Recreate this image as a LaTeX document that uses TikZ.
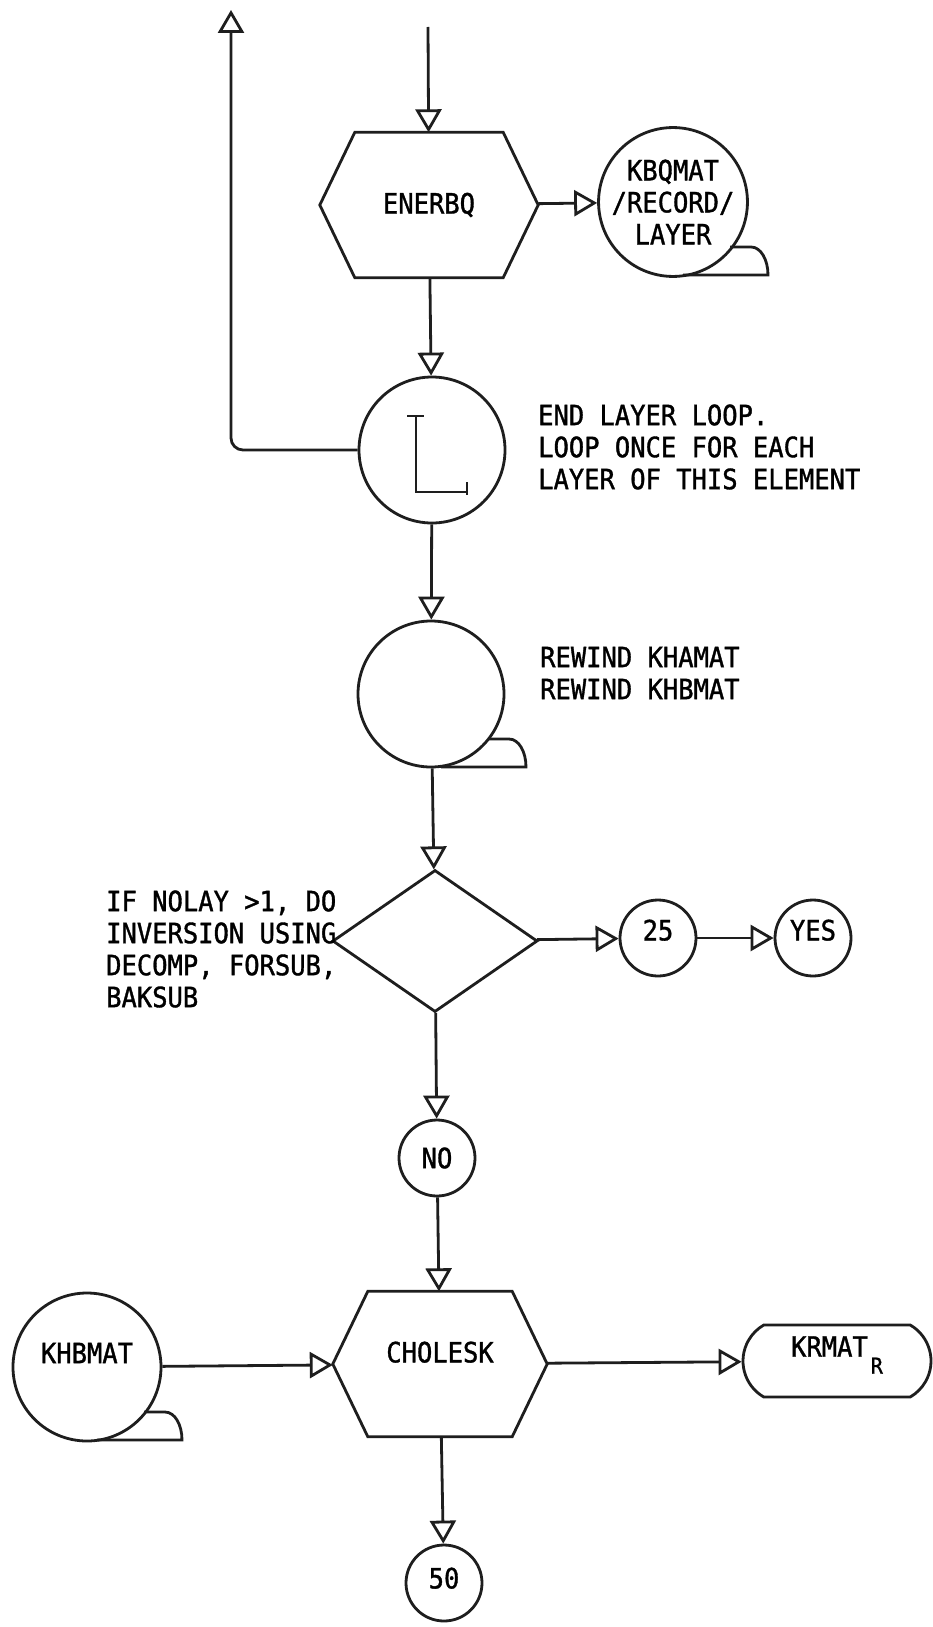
\documentclass[tikz,border=0pt]{standalone}
\usepackage{fontspec}
\setmainfont{DejaVu Sans Mono}[FakeStretch=0.91,FakeBold=1.2]
\usepackage{tikz}
\usetikzlibrary{arrows.meta,positioning,calc,shapes.geometric,shapes.misc}
\definecolor{cInk}{HTML}{1E1E1E}
\tikzset{
  wire/.style ={line width=2.8pt,draw=cInk},
  arr/.style  ={wire,-{Triangle[open,length=23pt,width=26pt]}},
  proc/.style ={minimum width=218pt,minimum height=145pt,inner sep=0pt},
  tape/.style ={circle,wire,minimum size=146pt,inner sep=0pt,align=center},
  conn/.style ={circle,wire,minimum size=76pt,inner sep=0pt},
  dec/.style  ={diamond,wire,minimum width=205pt,minimum height=142pt,inner sep=0pt},
  term/.style ={rounded rectangle,rounded rectangle arc length=120,wire,
                minimum width=188pt,minimum height=72pt,inner sep=0pt},
  note/.style ={anchor=west,align=left,inner sep=0pt},
}
% hexagon outline round a proc node
\newcommand\hexline[1]{%
  \draw[wire] ($(#1.north west)+(35,0)$) -- ($(#1.north east)+(-35,0)$)
    -- (#1.east) -- ($(#1.south east)+(-35,0)$)
    -- ($(#1.south west)+(35,0)$) -- (#1.west) -- cycle;}
% tail of a tape symbol
\newcommand\tapetail[1]{%
  \draw[wire] ($(#1.center)+(57,45)$) -- ($(#1.center)+(78,45)$)
    .. controls ($(#1.center)+(88,45)$) and ($(#1.center)+(95,58)$) .. ($(#1.center)+(95,73)$)
    -- ($(#1.center)+(10,73)$);}

\begin{document}
\begin{tikzpicture}[x=1pt,y=-1pt,font=\fontsize{28}{32}\selectfont]
\fill[white] (0,0) rectangle (932,1627);
\useasboundingbox (0,0) rectangle (932,1627);

% main column
\coordinate (entry) at (428,27);
\node[proc] (enerbq) at (429,205) {ENERBQ};
\node[tape] (kbqmat) at (673,202) {KBQMAT\\/RECORD/\\LAYER};
\node[tape] (loopend) at (432,450) {};
\node[tape] (rewind) at (431,694) {};
\node[dec] (test) at (435,941) {};
\node[conn,text depth=16pt] (n25) at (658,938) {25};
\node[conn,text depth=16pt] (yes) at (813,938) {YES};
\node[conn] (no) at (437,1158) {NO};
\node[proc,minimum width=214pt,text depth=24pt] (cholesk) at (440,1364) {CHOLESK};
\node[tape,minimum size=148pt,text depth=28pt] (khbmat) at (87,1367) {KHBMAT};
\node[term,text depth=29pt] (krmat) at (837,1361)
  {KRMAT\hspace{3pt}\raisebox{-17pt}{\fontsize{22}{22}\selectfont R}};
\node[conn,text depth=10pt] (n50) at (444,1583) {50};
\coordinate (loopup) at (231,10);

\hexline{enerbq}
\hexline{cholesk}
\tapetail{kbqmat}
\tapetail{rewind}
\tapetail{khbmat}

% loop end mark
\draw[wire] ($(loopend)+(-25,-34)$) -- +(17,0)
  ($(loopend)+(-16,-34)$) -- +(0,76) -- +(51,76)
  ($(loopend)+(35,32)$) -- +(0,13);

% notes
\node[note] (endnote) at (538,447) {END LAYER LOOP.\\LOOP ONCE FOR EACH\\LAYER OF THIS ELEMENT};
\node[note] (rewnote) at (540,673) {REWIND KHAMAT\\REWIND KHBMAT};
\node[note] (ifnote) at (106,949) {IF NOLAY >1, DO\\INVERSION USING\\DECOMP, FORSUB,\\BAKSUB};

% connectors
\draw[arr] (entry) -- (enerbq);
\draw[arr] (enerbq) -- (kbqmat);
\draw[arr] (enerbq) -- (loopend);
\draw[arr,rounded corners=12pt] (loopend.west) -| (loopup);
\draw[arr] (loopend) -- (rewind);
\draw[arr] (rewind) -- (test);
\draw[arr] (test) -- (n25);
\draw[arr] (n25) -- (yes);
\draw[arr] (test) -- (no);
\draw[arr] (no) -- (cholesk);
\draw[arr] (khbmat) -- (cholesk);
\draw[arr] (cholesk) -- (krmat);
\draw[arr] (cholesk) -- (n50);
\end{tikzpicture}
\end{document}
